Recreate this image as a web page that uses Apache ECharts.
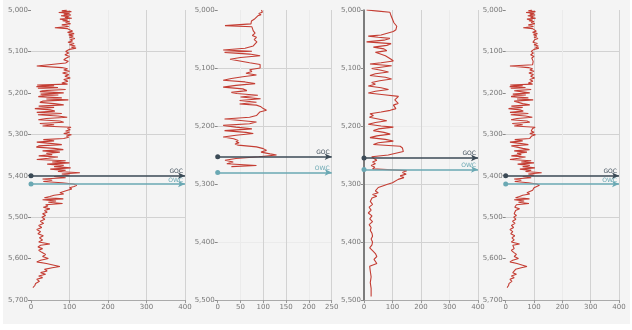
<!DOCTYPE html>
<html><head><meta charset="utf-8">
<script src="https://cdn.jsdelivr.net/npm/echarts@6/dist/echarts.min.js"></script>
<style>html,body{margin:0;padding:0;background:#fff}#c{width:632px;height:330px}</style>
</head><body><div id="c"></div>
<script>
// Well A (panels 1 and 4): depth (ft) and gamma value
const depthA = [5000,5002,5004,5006,5008,5010,5012,5014,5016,5018,5020,5022,5024,5026,5028,5030,5033,5036,5040,5043,5045,5048,5051,5054,5057,5060,5063,5066,5069,5072,5075,5078,5081,5084,5087,5090,5092,5095,5098,5100,5104,5108,5112,5116,5120,5124,5128,5132,5135,5137,5139,5142,5145,5148,5152,5156,5160,5164,5168,5172,5176,5179,5181,5183,5185,5187,5189,5192,5195,5197,5200,5203,5205,5207,5209,5212,5215,5217,5220,5223,5226,5229,5232,5235,5238,5241,5244,5247,5250,5253,5256,5259,5262,5265,5268,5271,5274,5277,5280,5283,5286,5289,5292,5295,5298,5301,5304,5307,5310,5313,5316,5319,5322,5325,5328,5331,5334,5337,5340,5343,5346,5349,5352,5355,5358,5361,5364,5367,5369,5372,5375,5378,5381,5384,5387,5390,5393,5396,5399,5402,5405,5408,5411,5414,5417,5420,5423,5426,5429,5432,5435,5438,5441,5444,5447,5450,5453,5456,5458,5461,5464,5467,5470,5473,5476,5480,5484,5488,5492,5496,5500,5505,5510,5515,5520,5525,5530,5535,5540,5545,5550,5555,5560,5565,5568,5572,5576,5580,5585,5590,5595,5600,5604,5608,5612,5616,5619,5622,5626,5630,5634,5638,5642,5646,5650,5655,5660,5665,5670];
const valueA = [93,80,105,72,100,85,104,78,98,88,106,75,95,82,100,90,103,80,98,62,95,100,108,95,112,98,110,100,114,102,108,96,112,100,115,105,117,100,95,90,98,88,100,92,85,97,90,95,15,14,80,95,85,100,82,98,88,102,85,96,80,95,16,60,14,70,18,90,30,23,85,25,71,30,19,80,40,97,30,23,60,85,20,60,10,50,62,15,80,18,70,94,40,19,75,85,23,60,30,104,95,102,90,100,85,105,92,98,85,32,60,15,50,80,20,14,60,84,30,75,40,55,20,70,45,15,90,55,100,42,85,60,103,50,90,70,127,80,100,60,90,30,55,32,80,110,119,112,100,106,95,100,75,85,60,49,35,84,30,65,45,82,38,44,32,49,35,42,30,38,28,36,24,33,20,28,15,25,18,32,22,30,20,49,25,18,30,20,28,38,30,45,25,15,40,60,75,55,35,42,25,38,20,30,15,22,12,10,5];

// Well B (panel 2)
const depthB = [5000,5002,5004,5006,5008,5010,5013,5016,5019,5021,5024,5027,5029,5032,5036,5040,5044,5047,5051,5055,5058,5062,5066,5069,5071,5073,5076,5079,5082,5085,5088,5091,5094,5097,5100,5103,5106,5109,5112,5115,5118,5121,5124,5127,5130,5133,5136,5139,5142,5144,5147,5150,5153,5156,5159,5162,5164,5167,5170,5173,5176,5179,5182,5185,5188,5190,5193,5196,5199,5202,5205,5208,5211,5213,5216,5219,5222,5225,5227,5229,5231,5233,5236,5239,5242,5245,5248,5250,5253,5256,5259,5262,5265,5268,5270];
const valueB = [96,93,98,90,95,88,92,80,74,71,73,16,75,72,78,82,76,85,80,86,82,78,60,12,75,15,70,93,50,27,30,70,93,90,93,70,75,62,85,55,30,12,60,82,40,12,55,64,30,42,88,50,94,48,85,48,85,95,100,107,92,96,85,70,15,12,85,70,12,40,75,15,62,78,40,12,35,45,40,47,38,45,85,100,107,95,115,129,90,40,16,34,20,85,30];

// Well C (panel 3)
const depthC = [5000,5002,5004,5007,5010,5013,5016,5019,5022,5025,5028,5031,5034,5037,5040,5043,5045,5047,5049,5052,5055,5058,5061,5064,5067,5070,5073,5076,5079,5082,5085,5088,5091,5093,5096,5099,5101,5104,5107,5110,5113,5116,5119,5122,5125,5128,5131,5134,5137,5140,5143,5146,5149,5152,5155,5158,5161,5164,5167,5170,5173,5176,5179,5182,5185,5188,5191,5194,5197,5200,5202,5205,5208,5211,5214,5217,5220,5223,5226,5229,5232,5235,5238,5241,5244,5247,5250,5253,5256,5259,5262,5265,5268,5271,5274,5277,5280,5283,5286,5289,5292,5295,5298,5301,5303,5306,5309,5312,5315,5318,5321,5324,5327,5330,5335,5340,5345,5350,5355,5360,5365,5370,5375,5380,5385,5390,5395,5400,5405,5410,5415,5420,5425,5430,5437,5442,5450,5460,5470,5480,5494];
const valueC = [9,50,91,88,95,92,100,96,105,110,115,108,112,103,100,60,15,50,91,70,9,95,80,33,70,80,40,33,75,80,95,103,60,21,97,90,27,60,86,40,21,75,97,55,27,40,15,60,86,40,15,70,121,115,108,115,120,103,100,112,92,60,21,33,19,50,80,40,15,60,103,50,33,70,92,45,21,75,103,50,33,127,135,130,138,135,85,27,35,45,30,40,25,38,30,150,135,148,127,140,120,115,100,80,68,50,56,40,50,30,45,28,35,22,30,18,25,15,28,20,30,18,25,22,28,30,25,30,28,20,30,40,45,35,45,20,22,25,22,25,25];

// Depth axis ticks and x-axis ranges
const depthTicksLong = [5000,5100,5200,5300,5400,5500,5600,5700];
const depthTicksShort = [5000,5100,5200,5300,5400,5500];
const xMax = [400, 250, 400, 400];
const xStep = [100, 50, 100, 100];

// Contact markers per panel: [upper depth, lower depth]
const contactNames = ['GOC', 'OWC'];
const contacts = [[5400, 5420], [5253, 5280], [5255, 5275], [5400, 5420]];

const wells = [
  {d: depthA, v: valueA, ticks: depthTicksLong},
  {d: depthB, v: valueB, ticks: depthTicksShort},
  {d: depthC, v: valueC, ticks: depthTicksShort},
  {d: depthA, v: valueA, ticks: depthTicksLong}
];

const gridPos = [
  {left: 31, width: 154},
  {left: 217.7, width: 114},
  {left: 364, width: 114},
  {left: 505.7, width: 113.3}
];

// grid line shades (as seen in the picture: some lines stronger than others)
const H = 'rgba(0,0,0,0)', F = '#ebebeb', V = '#d2d2d2';
const xSplit = [[H, V, F, V, V], [H, F, V, V, F, V], [H, V, V, F, V], [H, V, F, V, V]];
const ySplit = [[H, V, H, V, F, V, H, H], [H, V, V, H, F, H], [H, H, F, V, V, H], [H, V, H, V, F, V, H, H]];

const fmt = v => v.toLocaleString('en-US');
const darkC = '#3b4a56', tealC = '#6aa8b3';

const grids = [], xAxes = [], yAxes = [], series = [];
wells.forEach((w, i) => {
  grids.push({left: gridPos[i].left, width: gridPos[i].width, top: 10, height: 290});
  xAxes.push({
    type: 'value', gridIndex: i, min: 0, max: xMax[i], interval: xStep[i], position: 'bottom',
    axisLine: {show: true, lineStyle: {color: '#aaa', width: 1}},
    axisTick: {show: true, length: 3, lineStyle: {color: '#999'}},
    axisLabel: {fontSize: 7, color: '#777', margin: 4, fontFamily: 'DejaVu Sans'},
    splitLine: {show: true, lineStyle: {color: xSplit[i], width: 1}}
  });
  const t = w.ticks;
  yAxes.push({
    type: 'value', gridIndex: i, inverse: true, min: t[0], max: t[t.length - 1], interval: 100,
    axisLine: {show: i === 2, lineStyle: {color: '#555', width: 1.5}},
    axisTick: {show: true, length: 3, lineStyle: {color: '#888'}},
    axisLabel: {fontSize: 7, color: '#777', margin: 3, fontFamily: 'DejaVu Sans', formatter: fmt},
    splitLine: {show: true, lineStyle: {color: ySplit[i], width: 1}}
  });
  const data = w.d.map((d, k) => [w.v[k], d]);
  series.push({
    type: 'line', xAxisIndex: i, yAxisIndex: i, data: data, showSymbol: false, symbol: 'none',
    lineStyle: {color: '#c43d33', width: 1.1}, animation: false, z: 3
  });
  const c = contacts[i];
  [0, 1].forEach(j => {
    const col = j === 0 ? darkC : tealC;
    series.push({
      type: 'line', xAxisIndex: i, yAxisIndex: i, data: [], animation: false, z: 4,
      markLine: {
        silent: true, animation: false,
        symbol: ['circle', 'arrow'], symbolSize: [5, 7],
        lineStyle: {color: col, width: 1.5, type: 'solid'},
        label: {show: true, position: 'insideEndTop', formatter: contactNames[j], color: col, fontSize: 6, distance: [2, 1], fontFamily: 'DejaVu Sans'},
        data: [[{coord: [0, c[j]]}, {coord: [xMax[i], c[j]]}]]
      }
    });
  });
});

const chart = echarts.init(document.getElementById('c'), null, {renderer: 'canvas'});
chart.setOption({
  backgroundColor: '#ffffff',
  animation: false,
  graphic: [{type: 'rect', shape: {x: 3, y: 0, width: 627, height: 324}, style: {fill: '#f4f4f4'}, z: -10, silent: true}],
  grid: grids, xAxis: xAxes, yAxis: yAxes, series: series
});
</script></body></html>
